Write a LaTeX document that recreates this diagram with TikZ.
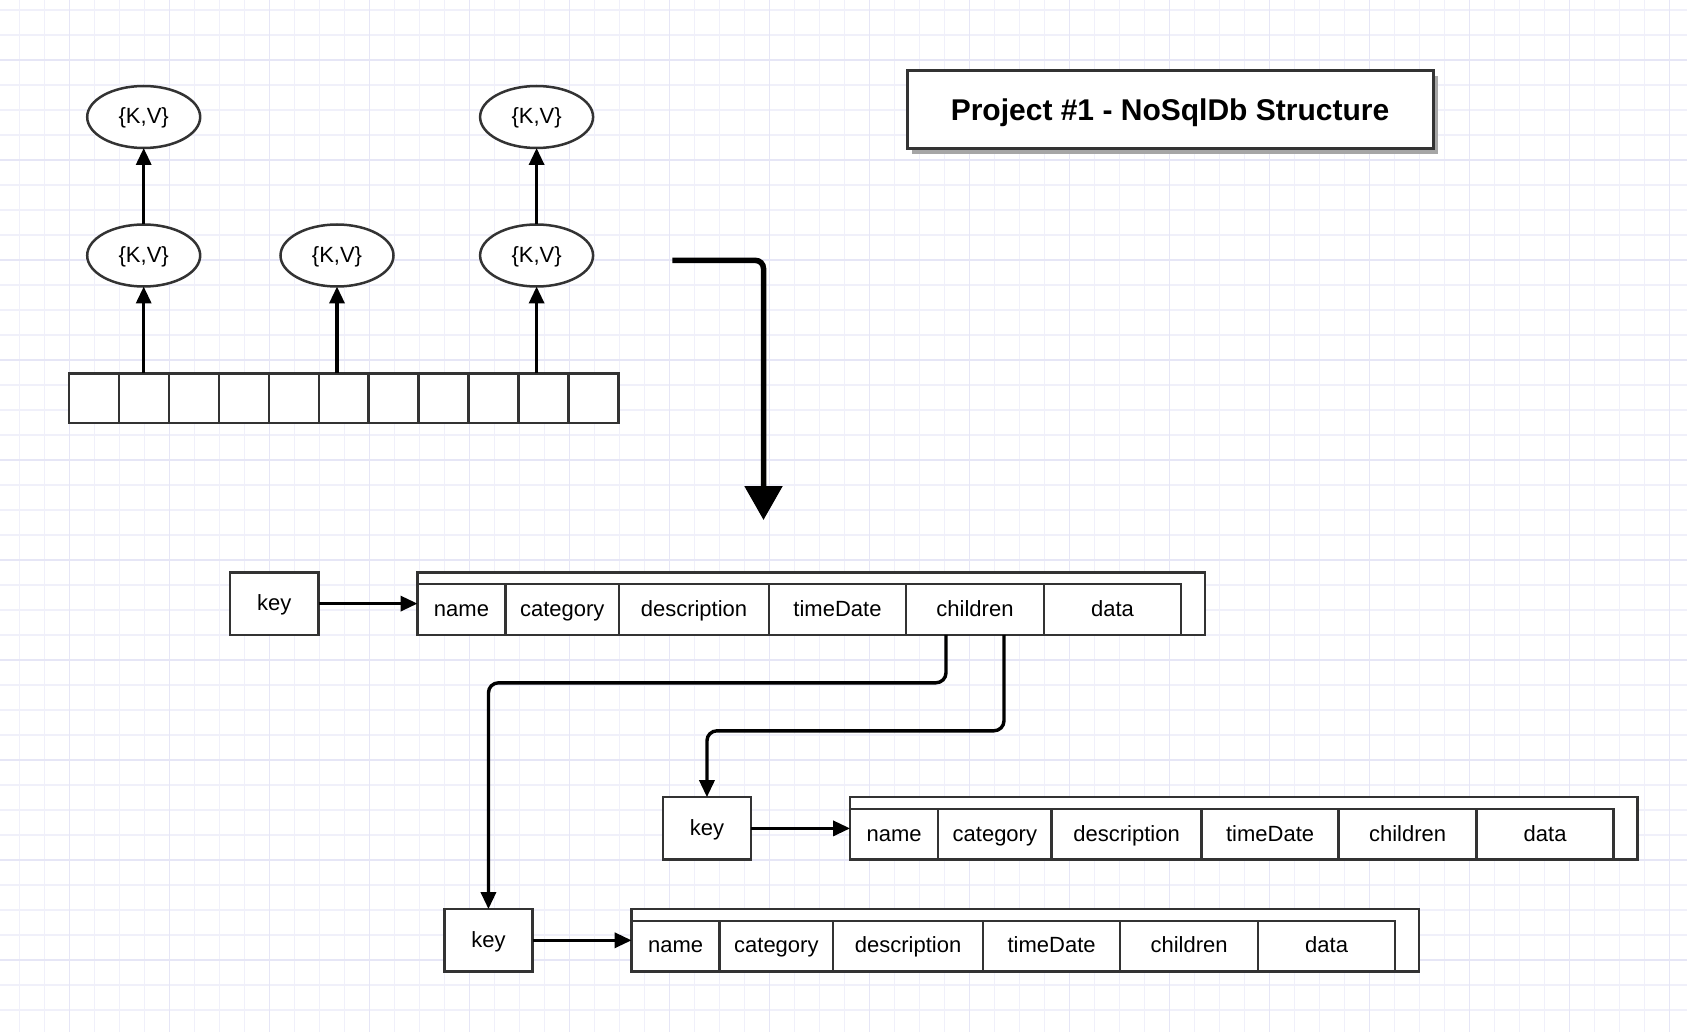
\documentclass[tikz,border=0pt]{standalone}
\usepackage{fontspec}
\setmainfont{Liberation Sans}
\usetikzlibrary{arrows.meta,positioning,shapes.geometric,shadows}
\definecolor{gridminor}{RGB}{240,240,250}
\definecolor{gridmajor}{RGB}{230,230,246}
\definecolor{edge}{RGB}{51,51,51}

\begin{document}
\begin{tikzpicture}[x=1pt,y=-1pt]
	\tikzstyle{every node}=[font=\fontsize{22}{26}\selectfont, inner sep=0pt, outer sep=0pt, text height=18pt, text depth=4.5pt]
	\tikzstyle{kv}=[ellipse, draw=edge, line width=2.5pt, fill=white, minimum width=113pt, minimum height=62pt]
	\tikzstyle{slot}=[draw=edge, line width=2.5pt, fill=white, minimum width=49.97pt, minimum height=49.5pt]
	\tikzstyle{keybox}=[draw=edge, line width=2.5pt, fill=white, minimum width=88.3pt, minimum height=62.4pt]
	\tikzstyle{recbox}=[draw=edge, line width=2.5pt, fill=white, minimum width=787.5pt, minimum height=62.4pt]
	\tikzstyle{field}=[draw=edge, line width=2.5pt, fill=white, minimum height=50.6pt, anchor=south west]
	\tikzstyle{relation}=[-{Triangle[length=17pt,width=15pt]}, line width=3.4pt, rounded corners=10pt]

	\useasboundingbox (0,0) rectangle (1687,1032);
	\fill[white] (0,0) rectangle (1687,1032);
	% grid
	\foreach \gx in {19.3,44.3,...,1687} \draw[gridminor, line width=1.2pt] (\gx,0) -- (\gx,1032);
	\foreach \gy in {10,35,...,1032} \draw[gridminor, line width=1.2pt] (0,\gy) -- (1687,\gy);
	\foreach \gx in {69.3,169.3,...,1687} \draw[gridmajor, line width=1.3pt] (\gx,0) -- (\gx,1032);
	\foreach \gy in {60,160,...,1032} \draw[gridmajor, line width=1.3pt] (0,\gy) -- (1687,\gy);

	\node[draw=edge, line width=3pt, fill=white, minimum width=526pt, minimum height=78pt,
		font=\fontsize{30}{36}\selectfont\bfseries, text height=28pt, text depth=6pt,
		drop shadow={shadow xshift=5pt, shadow yshift=-5pt, opacity=1, fill=black!35}] (title) at (1170,110) {Project \#1 - NoSqlDb Structure};

	% hash table
	\foreach \i in {1,...,11}
		\node[slot] (s\i) at ({93.9+(\i-1)*49.97},398) {};
	\node[kv] (kv1) at (143.7,117) {\{K,V\}};
	\node[kv] (kv2) at (536.6,117) {\{K,V\}};
	\node[kv] (kv3) at (143.7,255.5) {\{K,V\}};
	\node[kv] (kv4) at (337,255.5) {\{K,V\}};
	\node[kv] (kv5) at (536.6,255.5) {\{K,V\}};
	\draw[relation] (kv3 |- s2.north) -- (kv3.south);
	\draw[relation] (kv4 |- s6.north) -- (kv4.south);
	\draw[relation] (kv5 |- s10.north) -- (kv5.south);
	\draw[relation] (kv3.north) -- (kv1.south);
	\draw[relation] (kv5.north) -- (kv2.south);

	\coordinate (flowstart) at (672.4,260.4);
	\coordinate (flowend) at (763.5,520);
	\draw[line width=5.5pt, rounded corners=8pt, -{Triangle[length=34pt,width=37pt]}] (flowstart) -| (flowend);

	% records
	\foreach \r/\dx/\dy in {1/0/0, 2/432.6/224.8, 3/214.1/336.7} {
		\begin{scope}[shift={(\dx,\dy)}]
			\node[keybox] (key\r) at (274.35,603.6) {key};
			\node[recbox] (rec\r) at (811.25,603.6) {};
			\node[field, minimum width=88pt] (name\r) at (417.5,634.8) {name};
			\node[field, minimum width=113.5pt, right=0pt of name\r] (cat\r) {category};
			\node[field, minimum width=150pt, right=0pt of cat\r] (desc\r) {description};
			\node[field, minimum width=137pt, right=0pt of desc\r] (time\r) {timeDate};
			\node[field, minimum width=138pt, right=0pt of time\r] (child\r) {children};
			\node[field, minimum width=137pt, right=0pt of child\r] (data\r) {data};
			\draw[relation] (key\r.east) -- (rec\r.west);
		\end{scope}
	}
	\draw[relation] ([xshift=-29pt]child1.south) -- ++(0,48) -| (key3.north);
	\draw[relation] ([xshift=29pt]child1.south) -- ++(0,96) -| (key2.north);
\end{tikzpicture}
\end{document}
